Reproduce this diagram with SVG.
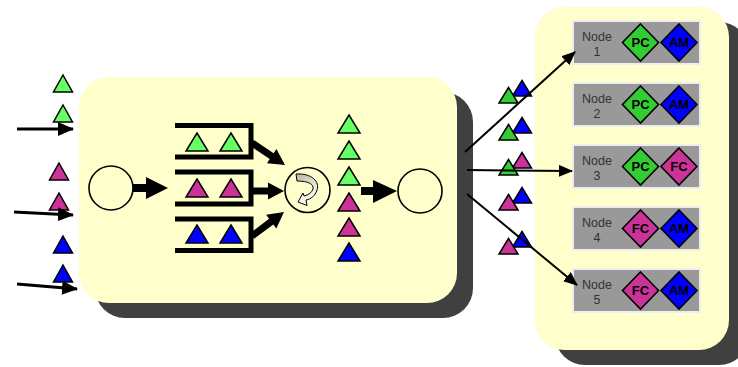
<svg xmlns="http://www.w3.org/2000/svg" width="738" height="367" viewBox="0 0 738 367">
<defs>
<style>
.shadow{fill:#404040}
.panel{fill:#FFFFCC}
.circ{fill:#FFFFCC;stroke:#000;stroke-width:1.6}
.tri{stroke:#000;stroke-width:1.5;stroke-linejoin:miter}
.lg{fill:#66FF66}
.dg{fill:#33CC33}
.mg{fill:#CC3399}
.bl{fill:#0000FF}
.queue{fill:none;stroke:#000;stroke-width:5}
.nbox{fill:#999999;stroke:#EEEEEE;stroke-width:2}
.ntxt{font-family:"Liberation Sans",Arial,sans-serif;font-size:12.5px;fill:#333;text-anchor:middle}
.dia{stroke:#000;stroke-width:1.6}
.dtxt{font-family:"Liberation Sans",Arial,sans-serif;font-size:13px;font-weight:bold;fill:#000;text-anchor:middle}
.thin{stroke:#000;stroke-width:2;fill:none}
.inarr{stroke:#000;stroke-width:3;fill:none}
.thick{fill:#000}
</style>
<path id="tb" d="M0,-18 L11,0 L-11,0 Z"/>
<path id="ts" d="M0,-17 L9.5,0 L-9.5,0 Z"/>
<path id="tp" d="M0,-15.5 L9.5,0 L-9.5,0 Z"/>
<path id="dm" d="M0,-18.5 L18,0 L0,18.5 L-18,0 Z"/>
<marker id="ah" viewBox="0 0 14 12" refX="13" refY="6" markerWidth="14" markerHeight="12" markerUnits="userSpaceOnUse" orient="auto">
<path d="M0,0 L14,6 L0,12 Z" fill="#000"/>
</marker>
<marker id="ahb" viewBox="0 0 16 14" refX="15" refY="7" markerWidth="16" markerHeight="14" markerUnits="userSpaceOnUse" orient="auto">
<path d="M0,0 L16,7 L0,14 Z" fill="#000"/>
</marker>
<linearGradient id="mg1" x1="0" y1="0" x2="0.3" y2="1">
<stop offset="0" stop-color="#B8B89C"/>
<stop offset="0.55" stop-color="#E8E8DA"/>
<stop offset="1" stop-color="#FFFFFF"/>
</linearGradient>
</defs>

<g id="main-box">
<rect class="shadow" x="95" y="92" width="378" height="226" rx="30"/>
<rect class="panel" x="79" y="77" width="378" height="226" rx="30"/>
</g>

<g id="cluster-box">
<rect class="shadow" x="555" y="22" width="194" height="343" rx="30"/>
<rect class="panel" x="535" y="7" width="194" height="343" rx="30"/>
</g>

<g id="input-tokens">
<use href="#ts" class="tri lg" x="63" y="92"/>
<use href="#ts" class="tri lg" x="63" y="122"/>
<use href="#ts" class="tri mg" x="59" y="180"/>
<use href="#ts" class="tri mg" x="59" y="210"/>
<use href="#ts" class="tri bl" x="63" y="253"/>
<use href="#ts" class="tri bl" x="63" y="282"/>
</g>

<g id="input-circle">
<circle class="circ" cx="111" cy="188" r="22"/>
</g>

<g id="queue-1">
<path class="queue" d="M175,125.5 H251 V157 H175"/>
<use href="#tb" class="tri lg" x="197" y="151"/>
<use href="#tb" class="tri lg" x="231" y="151"/>
</g>
<g id="queue-2">
<path class="queue" d="M175,172 H251 V204 H175"/>
<use href="#tb" class="tri mg" x="197" y="197"/>
<use href="#tb" class="tri mg" x="231" y="197"/>
</g>
<g id="queue-3">
<path class="queue" d="M175,219 H251 V250.5 H175"/>
<use href="#tb" class="tri bl" x="197" y="243"/>
<use href="#tb" class="tri bl" x="231" y="243"/>
</g>

<g id="merger">
<circle class="circ" cx="307.5" cy="190" r="22.5"/>
<path d="M296,174 C312,173 320,182 317,190 C315,196 311,199 306,200 L307,205.5 L298,202 L303,193 L304,196 C309,195 312,192 313,189 C314,184 308,181 297,181 Z" fill="url(#mg1)" stroke="#000" stroke-width="1"/>
</g>

<g id="output-tokens">
<use href="#tb" class="tri lg" x="349" y="133"/>
<use href="#tb" class="tri lg" x="349" y="159"/>
<use href="#tb" class="tri lg" x="349" y="185"/>
<use href="#tb" class="tri mg" x="349" y="211"/>
<use href="#tb" class="tri mg" x="349" y="236"/>
<use href="#tb" class="tri bl" x="349" y="261"/>
</g>

<g id="output-circle">
<circle class="circ" cx="420" cy="191" r="22"/>
</g>

<g id="pair-tokens">
<use href="#tp" class="tri bl" x="522" y="96"/>
<use href="#tp" class="tri dg" x="508.5" y="103"/>
<use href="#tp" class="tri bl" x="522" y="133"/>
<use href="#tp" class="tri dg" x="508.5" y="140"/>
<use href="#tp" class="tri mg" x="522" y="168"/>
<use href="#tp" class="tri dg" x="508.5" y="175"/>
<use href="#tp" class="tri bl" x="522" y="203"/>
<use href="#tp" class="tri mg" x="508.5" y="210"/>
<use href="#tp" class="tri bl" x="522" y="247"/>
<use href="#tp" class="tri mg" x="508.5" y="254"/>
</g>

<g id="node-1">
<rect class="nbox" x="573" y="21" width="127" height="43"/>
<text class="ntxt" x="597" y="40.5">Node</text>
<text class="ntxt" x="597" y="56">1</text>
<use href="#dm" class="dia dg" x="640.5" y="42.5"/>
<text class="dtxt" x="640.5" y="47">PC</text>
<use href="#dm" class="dia bl" x="679" y="42.5"/>
<text class="dtxt" x="679" y="47">AM</text>
</g>
<g id="node-2">
<rect class="nbox" x="573" y="83" width="127" height="43"/>
<text class="ntxt" x="597" y="102.5">Node</text>
<text class="ntxt" x="597" y="118">2</text>
<use href="#dm" class="dia dg" x="640.5" y="104.5"/>
<text class="dtxt" x="640.5" y="109">PC</text>
<use href="#dm" class="dia bl" x="679" y="104.5"/>
<text class="dtxt" x="679" y="109">AM</text>
</g>
<g id="node-3">
<rect class="nbox" x="573" y="145" width="127" height="43"/>
<text class="ntxt" x="597" y="164.5">Node</text>
<text class="ntxt" x="597" y="180">3</text>
<use href="#dm" class="dia dg" x="640.5" y="166.5"/>
<text class="dtxt" x="640.5" y="171">PC</text>
<use href="#dm" class="dia mg" x="679" y="166.5"/>
<text class="dtxt" x="679" y="171">FC</text>
</g>
<g id="node-4">
<rect class="nbox" x="573" y="207" width="127" height="43"/>
<text class="ntxt" x="597" y="226.5">Node</text>
<text class="ntxt" x="597" y="242">4</text>
<use href="#dm" class="dia mg" x="640.5" y="228.5"/>
<text class="dtxt" x="640.5" y="233">FC</text>
<use href="#dm" class="dia bl" x="679" y="228.5"/>
<text class="dtxt" x="679" y="233">AM</text>
</g>
<g id="node-5">
<rect class="nbox" x="573" y="269" width="127" height="43"/>
<text class="ntxt" x="597" y="288.5">Node</text>
<text class="ntxt" x="597" y="304">5</text>
<use href="#dm" class="dia mg" x="640.5" y="290.5"/>
<text class="dtxt" x="640.5" y="295">FC</text>
<use href="#dm" class="dia bl" x="679" y="290.5"/>
<text class="dtxt" x="679" y="295">AM</text>
</g>

<g id="connectors">
<line class="inarr" x1="17" y1="129" x2="73" y2="129" marker-end="url(#ahb)"/>
<line class="inarr" x1="14" y1="212" x2="73" y2="215" marker-end="url(#ahb)"/>
<line class="inarr" x1="17" y1="284" x2="77" y2="289" marker-end="url(#ahb)"/>
<path class="thick" d="M133,184 L146,184 L146,177 L168,188 L146,199 L146,192 L133,192 Z"/>
<path class="thick" d="M-40,-3.5 L-16,-3.5 L-16,-8.5 L0,0 L-16,8.5 L-16,3.5 L-40,3.5 Z" transform="translate(285,165) rotate(33.7)"/>
<path class="thick" d="M-32,-3.5 L-16,-3.5 L-16,-8.5 L0,0 L-16,8.5 L-16,3.5 L-32,3.5 Z" transform="translate(284,191)"/>
<path class="thick" d="M-40,-3.5 L-16,-3.5 L-16,-8.5 L0,0 L-16,8.5 L-16,3.5 L-40,3.5 Z" transform="translate(284,212) rotate(-36.9)"/>
<path class="thick" d="M361,187 L373,187 L373,180 L397,191 L373,203 L373,195 L361,195 Z"/>
<line class="thin" x1="465" y1="152" x2="575" y2="52" marker-end="url(#ah)"/>
<line class="thin" x1="467" y1="170" x2="572" y2="171" marker-end="url(#ah)"/>
<line class="thin" x1="467" y1="194" x2="577" y2="285" marker-end="url(#ah)"/>
</g>
</svg>
